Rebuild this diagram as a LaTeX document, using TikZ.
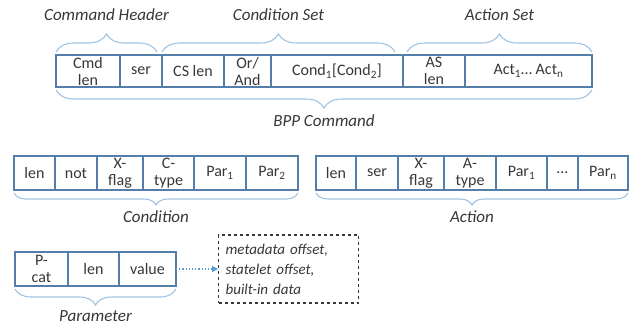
\documentclass[tikz,border=0pt]{standalone}
\usepackage{fontspec}
\setmainfont{Carlito}
\usetikzlibrary{positioning,decorations.pathreplacing,arrows.meta}
\definecolor{cellblue}{RGB}{84,125,170}
\definecolor{braceblue}{RGB}{160,195,228}
\definecolor{arrowblue}{RGB}{91,155,213}
\definecolor{txtgray}{RGB}{55,55,55}
\begin{document}
\begin{tikzpicture}[x=1pt, y=-1pt,
    every node/.style = {text=txtgray, font=\fontsize{16}{17}\selectfont},
    cell/.style = {draw=cellblue, line width=1.1pt, inner sep=0pt, outer sep=0pt,
      align=center, minimum height=32pt},
    brc/.style = {draw=braceblue, line width=1.1pt, decorate,
      decoration={brace, amplitude=#1}},
    lbl/.style = {font=\fontsize{17}{19}\selectfont\itshape}]
  \useasboundingbox (0,0) rectangle (629,329);
  % BPP command
  \node[cell, minimum width=64pt, anchor=north west] (cmdlen) at (56,55) {Cmd\\len};
  \node[cell, minimum width=42pt, right=0pt of cmdlen] (ser) {ser};
  \node[cell, minimum width=62pt, right=0pt of ser] (cslen) {CS len};
  \node[cell, minimum width=47pt, right=0pt of cslen] (orand) {Or/\\And};
  \node[cell, minimum width=132pt, right=0pt of orand] (cond) {Cond\textsubscript{1}[Cond\textsubscript{2}]};
  \node[cell, minimum width=62pt, right=0pt of cond] (aslen) {AS\\len};
  \node[cell, minimum width=127pt, right=0pt of aslen] (act) {Act\textsubscript{1}… Act\textsubscript{n}};
  \draw[brc=18] ([yshift=3pt]cmdlen.north west) -- ([yshift=3pt,xshift=-5pt]ser.north east)
    node[lbl, midway, yshift=37pt] {Command Header};
  \draw[brc=18] ([yshift=3pt]cslen.north west) -- ([yshift=3pt,xshift=-8pt]cond.north east)
    node[lbl, midway, yshift=37pt] {Condition Set};
  \draw[brc=18] ([yshift=3pt,xshift=4pt]aslen.north west) -- ([yshift=3pt]act.north east)
    node[lbl, midway, yshift=37pt] {Action Set};
  \draw[brc=18] ([yshift=-3pt]act.south east) -- ([yshift=-3pt]cmdlen.south west)
    node[lbl, midway, yshift=-31pt] {BPP Command};
  % condition
  \node[cell, minimum height=34pt, minimum width=41pt, anchor=north west] (clen) at (14,156) {len};
  \node[cell, minimum height=34pt, minimum width=42pt, right=0pt of clen] (cnot) {not};
  \node[cell, minimum height=34pt, minimum width=46pt, right=0pt of cnot] (cxflag) {X-\\flag};
  \node[cell, minimum height=34pt, minimum width=51pt, right=0pt of cxflag] (ctype) {C-\\type};
  \node[cell, minimum height=34pt, minimum width=52pt, right=0pt of ctype] (cparA) {Par\textsubscript{1}};
  \node[cell, minimum height=34pt, minimum width=52pt, right=0pt of cparA] (cparB) {Par\textsubscript{2}};
  \draw[brc=12] ([yshift=-3pt]cparB.south east) -- ([yshift=-3pt]clen.south west)
    node[lbl, midway, yshift=-24pt] {Condition};
  % action
  \node[cell, minimum height=34pt, minimum width=40pt, anchor=north west] (alen) at (316,156) {len};
  \node[cell, minimum height=34pt, minimum width=42pt, right=0pt of alen] (aser) {ser};
  \node[cell, minimum height=34pt, minimum width=46pt, right=0pt of aser] (axflag) {X-\\flag};
  \node[cell, minimum height=34pt, minimum width=52pt, right=0pt of axflag] (atype) {A-\\type};
  \node[cell, minimum height=34pt, minimum width=51pt, right=0pt of atype] (aparA) {Par\textsubscript{1}};
  \node[cell, minimum height=34pt, minimum width=31pt, right=0pt of aparA] (adots) {…};
  \node[cell, minimum height=34pt, minimum width=50pt, right=0pt of adots] (aparN) {Par\textsubscript{n}};
  \draw[brc=12] ([yshift=-3pt]aparN.south east) -- ([yshift=-3pt]alen.south west)
    node[lbl, midway, yshift=-24pt] {Action};
  % parameter
  \node[cell, minimum height=34pt, minimum width=53pt, anchor=north west] (pcat) at (15,252) {P-\\cat};
  \node[cell, minimum height=34pt, minimum width=51pt, right=0pt of pcat] (plen) {len};
  \node[cell, minimum height=34pt, minimum width=57pt, right=0pt of plen] (pval) {value};
  \draw[brc=16] ([yshift=-3pt]pval.south east) -- ([yshift=-3pt]pcat.south west)
    node[lbl, midway, yshift=-27pt] {Parameter};
  \node[draw=txtgray, dashed, line width=1.2pt, font=\fontsize{15}{20}\selectfont\itshape,
    align=left, anchor=west, text width=126pt, minimum height=68pt, inner xsep=7pt]
    (pdata) at (218,269) {metadata offset,\\statelet offset,\\built-in data};
  \draw[arrowblue, dotted, line width=1.2pt, -{Triangle[length=6pt,width=6pt]}] (pval) -- (pdata);
\end{tikzpicture}
\end{document}
